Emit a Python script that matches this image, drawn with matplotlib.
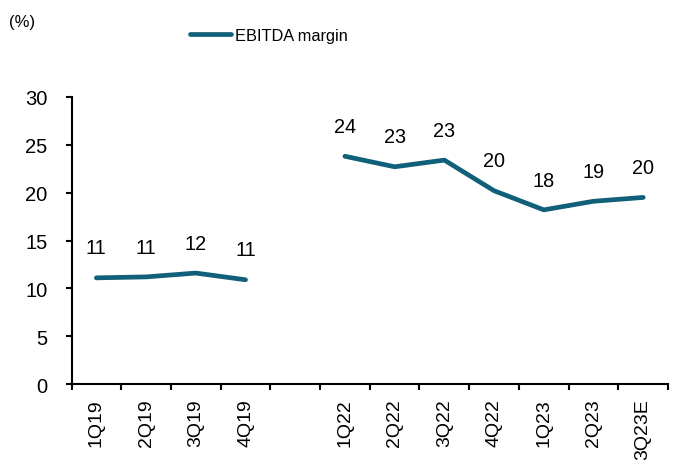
"""
EBITDA margin by quarter, with a gap between 2019 and 2022
"""
import matplotlib.pyplot as plt
import numpy as np

plt.rcParams['font.family'] = ['Liberation Sans', 'DejaVu Sans']

quarters = ['1Q19', '2Q19', '3Q19', '4Q19', '',
            '1Q22', '2Q22', '3Q22', '4Q22', '1Q23', '2Q23', '3Q23E']
ebitda_margin = [11.1, 11.2, 11.6, 10.9, np.nan,
                 23.8, 22.7, 23.4, 20.2, 18.2, 19.1, 19.5]

LINE_COLOR = '#0F6078'

fig = plt.figure(figsize=(6.81, 4.64), dpi=100)
ax = fig.add_axes([0.105, 0.170, 0.876, 0.619])

x = np.arange(len(quarters))
ax.plot(x, ebitda_margin, color=LINE_COLOR, lw=3.4, solid_capstyle='round',
        solid_joinstyle='round', label='EBITDA margin')

# Data labels above each point
for xi, v in zip(x, ebitda_margin):
    if np.isnan(v):
        continue
    ax.annotate(f'{int(v + 0.5)}', (xi, v), xytext=(0, 21.5),
                textcoords='offset points', ha='center', va='center', fontsize=14.3)

ax.set_xlim(-0.5, len(quarters) - 0.5)
ax.set_ylim(0, 30)
ax.set_yticks(np.arange(0, 31, 5))

# Ticks on category boundaries, labels in the middle
ax.set_xticks(np.arange(-0.5, len(quarters), 1))
ax.set_xticklabels([])
ax.set_xticks(x, minor=True)
ax.set_xticklabels(quarters, minor=True, rotation=90, va='top', ha='center', fontsize=14)
ax.tick_params(axis='x', which='major', direction='out', length=4.3, width=1.5)
ax.tick_params(axis='x', which='minor', length=0, pad=10)
ax.tick_params(axis='y', direction='out', length=4.3, width=1.5, pad=13, labelsize=14.5)

for side in ['top', 'right']:
    ax.spines[side].set_visible(False)
for side in ['left', 'bottom']:
    ax.spines[side].set_linewidth(1.5)

fig.text(9 / 681, 1 - 22 / 464, '(%)', fontsize=12, ha='left', va='center')
ax.legend(loc='center left', bbox_to_anchor=(190 / 681, 1 - 36 / 464),
          bbox_transform=fig.transFigure, frameon=False, fontsize=11.8,
          handlelength=2.5, handletextpad=0.25, borderpad=0, borderaxespad=0)

fig.savefig('out.png', dpi=100)
